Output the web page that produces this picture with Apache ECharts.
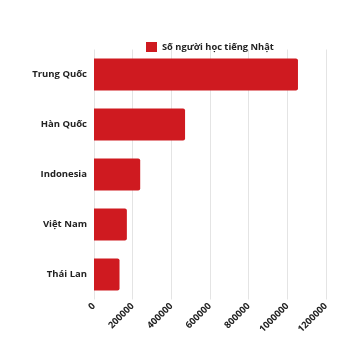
<!DOCTYPE html>
<html><head><meta charset="utf-8">
<script src="https://cdn.jsdelivr.net/npm/echarts@6/dist/echarts.min.js"></script>
<style>html,body{margin:0;padding:0;background:#fff}#c{width:361px;height:361px}</style>
</head><body><div id="c"></div>
<script>
const categories = ['Trung Quốc', 'Hàn Quốc', 'Indonesia', 'Việt Nam', 'Thái Lan'];
const learners = [1055000, 471000, 239000, 170000, 132000];
const seriesName = 'Số người học tiếng Nhật';
const xTicks = { min: 0, max: 1200000, interval: 200000 };

const chart = echarts.init(document.getElementById('c'));
chart.setOption({
  animation: false,
  textStyle: { fontFamily: 'Open Sans' },
  legend: {
    data: [seriesName],
    top: 37, left: 141,
    itemWidth: 11, itemHeight: 10, itemGap: 4,
    icon: 'rect',
    textStyle: { fontSize: 9.3, fontWeight: 'bold', color: '#222', fontFamily: 'Open Sans' }
  },
  grid: { left: 94, right: 35, top: 49.5, bottom: 61.5, containLabel: false },
  xAxis: {
    type: 'value', min: xTicks.min, max: xTicks.max, interval: xTicks.interval,
    axisLine: { show: false }, axisTick: { show: false },
    splitLine: { show: true, lineStyle: { color: '#e4e4e4', width: 1 } },
    axisLabel: { rotate: 45, fontSize: 9.3, fontWeight: 'bold', color: '#222', margin: 5, fontFamily: 'Open Sans',
      formatter: v => String(v) }
  },
  yAxis: {
    type: 'category', data: categories, inverse: true,
    axisLine: { show: false }, axisTick: { show: false },
    axisLabel: { fontSize: 9.5, fontWeight: 'bold', color: '#222', margin: 7, fontFamily: 'Open Sans' }
  },
  series: [{
    name: seriesName, type: 'bar', data: learners, barWidth: 32,
    itemStyle: { color: '#cf1a20', borderRadius: [0, 2, 2, 0] }
  }]
});
</script></body></html>
